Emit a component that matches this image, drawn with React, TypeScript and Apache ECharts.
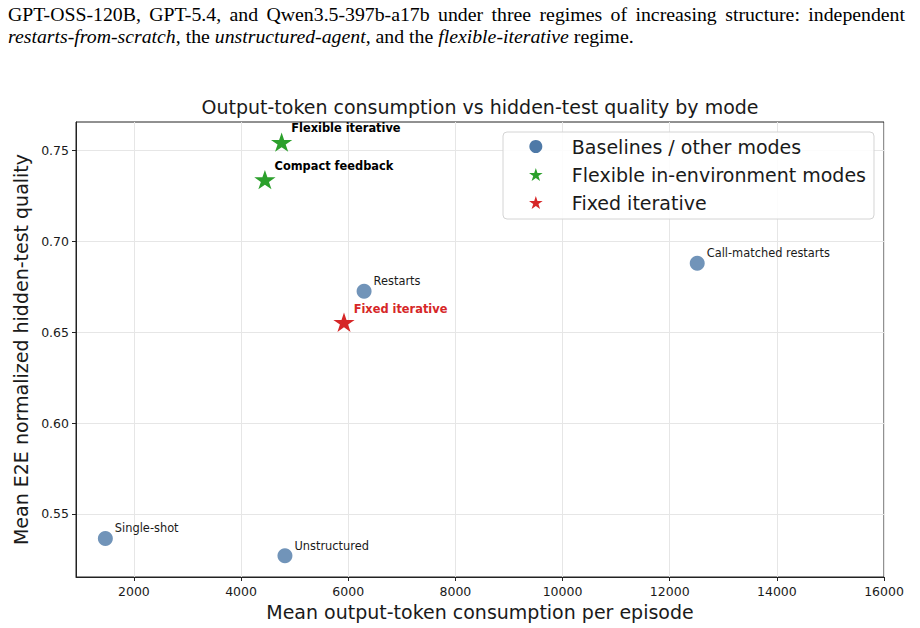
import React, { useEffect, useRef } from "react";
import * as echarts from "echarts";

// Mode points: [mean output tokens per episode, mean E2E normalized hidden-test quality]
const baselineNames = ["Single-shot", "Unstructured", "Restarts", "Call-matched restarts"];
const baselineTokens = [1467, 4819, 6296, 12514];
const baselineQuality = [0.5365, 0.527, 0.6725, 0.688];

const flexibleNames = ["Flexible iterative", "Compact feedback"];
const flexibleTokens = [4757, 4445];
const flexibleQuality = [0.7546, 0.734];

const fixedNames = ["Fixed iterative"];
const fixedTokens = [5921];
const fixedQuality = [0.6555];

const xTicks = [2000, 4000, 6000, 8000, 10000, 12000, 14000, 16000];
const yTicks = [0.55, 0.6, 0.65, 0.7, 0.75];

const X_MIN = 919;
const X_MAX = 16000;
const Y_MIN = 0.5153;
const Y_MAX = 0.7657;

const CAPTION_LINE_1 =
  "GPT-OSS-120B, GPT-5.4, and Qwen3.5-397b-a17b under three regimes of increasing structure: independent";
const CAPTION_LINE_2 =
  "{i|restarts-from-scratch}, the {i|unstructured-agent}, and the {i|flexible-iterative} regime.";

const SANS = "DejaVu Sans";
const SERIF = "Liberation Serif";
const INK = "#1a1a1a";

const BLUE_POINT = "rgb(113,148,185)";
const BLUE = "#4e79a7";
const GREEN = "#2ca02c";
const RED = "#d62728";

// five-pointed star outline (outer radius 1, inner radius 0.382) as an SVG path
function starPath(): string {
  const pts: string[] = [];
  for (let k = 0; k < 10; k++) {
    const a = ((-90 + 36 * k) * Math.PI) / 180;
    const r = k % 2 === 0 ? 1 : 0.381966;
    const x = (100 + 100 * r * Math.cos(a)).toFixed(2);
    const y = (100 + 100 * r * Math.sin(a)).toFixed(2);
    pts.push((k === 0 ? "M" : "L") + x + " " + y);
  }
  return "path://" + pts.join(" ") + " Z";
}
const STAR = starPath();

const zip = (names: string[], xs: number[], ys: number[]) =>
  names.map((n, i) => ({ name: n, value: [xs[i], ys[i]] }));

// spread the words of a justified line between two x positions
function justifiedWords(text: string, font: string, x0: number, x1: number) {
  const ctx = document.createElement("canvas").getContext("2d")!;
  ctx.font = font;
  const words = text.split(" ");
  const widths = words.map((w) => ctx.measureText(w).width);
  const total = widths.reduce((a, b) => a + b, 0);
  const gap = (x1 - x0 - total) / (words.length - 1);
  let x = x0;
  return words.map((w, i) => {
    const el = { word: w, x };
    x += widths[i] + gap;
    return el;
  });
}

export default function App() {
  const ref = useRef<HTMLDivElement>(null);

  useEffect(() => {
    if (!ref.current) return;
    const chart = echarts.init(ref.current, null, { renderer: "svg" });

    const captionFont = 19.8;
    const line1 = justifiedWords(
      CAPTION_LINE_1,
      `${captionFont}px "${SERIF}"`,
      8,
      905
    );

    const graphics: any[] = line1.map((w) => ({
      type: "text",
      x: w.x,
      y: 13.5,
      style: {
        text: w.word,
        fontFamily: SERIF,
        fontSize: captionFont,
        fill: "#000",
        verticalAlign: "middle",
        align: "left",
      },
    }));
    graphics.push({
      type: "text",
      x: 8,
      y: 35.5,
      style: {
        text: CAPTION_LINE_2,
        fontFamily: SERIF,
        fontSize: captionFont,
        fill: "#000",
        verticalAlign: "middle",
        align: "left",
        rich: {
          i: { fontFamily: SERIF, fontSize: captionFont, fontStyle: "italic", fill: "#000" },
        },
      },
    });

    const labelBase = {
      show: true,
      formatter: "{b}",
      position: "right",
      fontFamily: SANS,
      fontSize: 11.4,
    };

    chart.setOption({
      animation: false,
      backgroundColor: "#ffffff",
      textStyle: { fontFamily: SANS },
      title: {
        text: "Output-token consumption vs hidden-test quality by mode",
        left: 480,
        textAlign: "center",
        top: 97,
        padding: 0,
        textStyle: { fontFamily: SANS, fontSize: 19, fontWeight: "normal", color: INK },
      },
      graphic: graphics,
      grid: {
        left: 76,
        right: 36,
        top: 122,
        bottom: 51,
        show: true,
        borderColor: "#222",
        borderWidth: 1,
        backgroundColor: "transparent",
      },
      legend: {
        orient: "vertical",
        left: 503,
        top: 132,
        padding: [5, 8, 7, 26],
        itemGap: 9,
        itemWidth: 14,
        itemHeight: 13,
        backgroundColor: "rgba(255,255,255,0.85)",
        borderColor: "#d4d4d4",
        borderWidth: 1,
        borderRadius: 4,
        textStyle: { fontFamily: SANS, fontSize: 19, color: INK, padding: [0, 0, 0, 24] },
        data: [
          { name: "Baselines / other modes", icon: "circle", itemStyle: { color: BLUE, opacity: 1 } },
          { name: "Flexible in-environment modes", icon: STAR, itemStyle: { color: GREEN, opacity: 1 } },
          { name: "Fixed iterative", icon: STAR, itemStyle: { color: RED, opacity: 1 } },
        ],
      },
      xAxis: {
        type: "value",
        min: X_MIN,
        max: X_MAX,
        name: "Mean output-token consumption per episode",
        nameLocation: "middle",
        nameGap: 25,
        nameTextStyle: { fontFamily: SANS, fontSize: 19, color: INK },
        axisLine: { show: true, onZero: false, lineStyle: { color: "#222", width: 1 } },
        axisTick: {
          show: true,
          inside: false,
          length: 4,
          customValues: xTicks,
          lineStyle: { color: "#222" },
        },
        axisLabel: {
          customValues: xTicks,
          margin: 8,
          fontFamily: SANS,
          fontSize: 12.5,
          color: INK,
          formatter: (v: number) => String(v),
        },
        splitLine: { show: true, lineStyle: { color: "#e6e6e6", width: 1 } },
      },
      yAxis: {
        type: "value",
        min: Y_MIN,
        max: Y_MAX,
        name: "Mean E2E normalized hidden-test quality",
        nameLocation: "middle",
        nameGap: 43,
        nameTextStyle: { fontFamily: SANS, fontSize: 19, color: INK },
        axisLine: { show: true, onZero: false, lineStyle: { color: "#222", width: 1 } },
        axisTick: {
          show: true,
          inside: false,
          length: 4,
          customValues: yTicks,
          lineStyle: { color: "#222" },
        },
        axisLabel: {
          customValues: yTicks,
          margin: 7,
          fontFamily: SANS,
          fontSize: 12.5,
          color: INK,
          formatter: (v: number) => v.toFixed(2),
        },
        splitLine: { show: true, lineStyle: { color: "#e6e6e6", width: 1 } },
      },
      series: [
        {
          name: "Baselines / other modes",
          type: "scatter",
          symbol: "circle",
          symbolSize: 15,
          itemStyle: { color: BLUE_POINT, opacity: 1 },
          label: { ...labelBase, distance: 2, offset: [0, -10], color: INK },
          data: zip(baselineNames, baselineTokens, baselineQuality),
        },
        {
          name: "Flexible in-environment modes",
          type: "scatter",
          symbol: STAR,
          symbolKeepAspect: true,
          symbolSize: [21.3, 20.3],
          itemStyle: { color: GREEN, opacity: 1 },
          label: {
            ...labelBase,
            distance: 0,
            offset: [-1, -14],
            fontWeight: "bold",
            color: "#000",
          },
          data: zip(flexibleNames, flexibleTokens, flexibleQuality),
        },
        {
          name: "Fixed iterative",
          type: "scatter",
          symbol: STAR,
          symbolKeepAspect: true,
          symbolSize: [21.3, 20.3],
          itemStyle: { color: RED, opacity: 1 },
          label: {
            ...labelBase,
            distance: 0,
            offset: [-1, -13],
            fontWeight: "bold",
            color: RED,
          },
          data: zip(fixedNames, fixedTokens, fixedQuality),
        },
      ],
    });

    return () => chart.dispose();
  }, []);

  return (
    <div
      ref={ref}
      style={{ position: "fixed", left: 0, top: 0, width: 920, height: 628 }}
    />
  );
}
